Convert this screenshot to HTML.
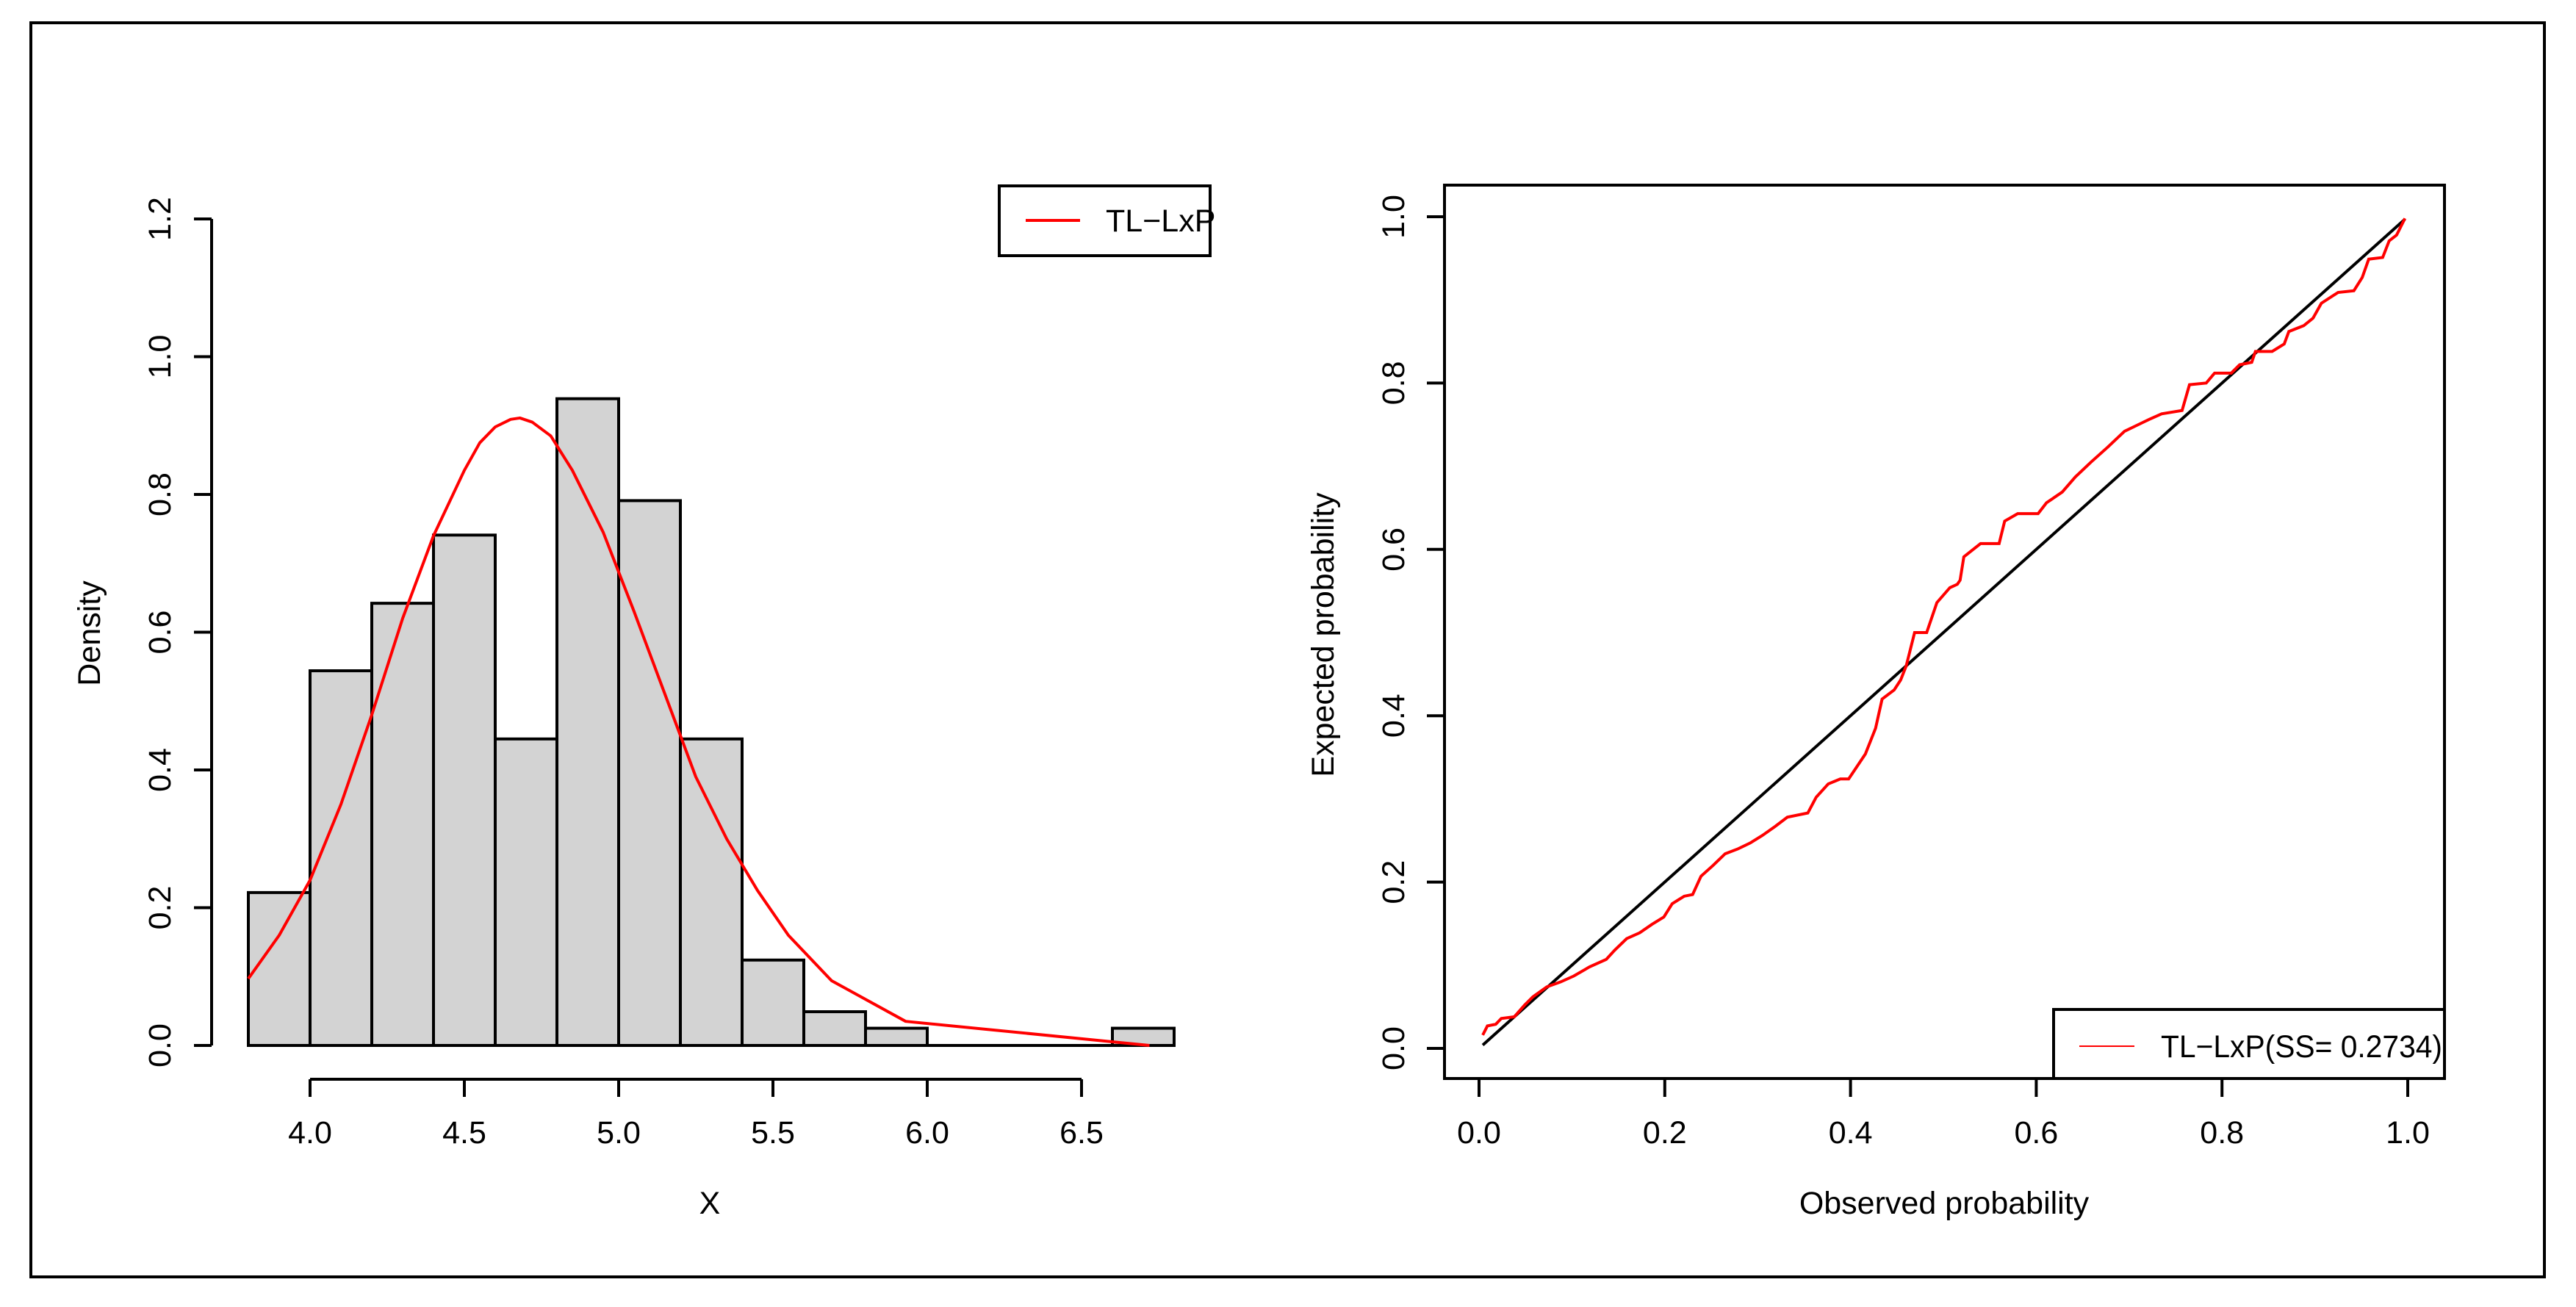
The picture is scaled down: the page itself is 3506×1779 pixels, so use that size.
<!DOCTYPE html>
<html><head><meta charset="utf-8"><style>
html,body{margin:0;padding:0;background:#fff}
svg{display:block;font-family:"Liberation Sans",Arial,sans-serif}
</style></head><body>
<svg id="s" width="3506" height="1779" viewBox="0 0 3506 1779" xmlns="http://www.w3.org/2000/svg">
<rect x="0" y="0" width="3506" height="1779" fill="#fff"/>
<rect x="42" y="31" width="3421" height="1707" fill="none" stroke="#000" stroke-width="4"/>
<g id="left"></g>
<g id="right"></g>
</svg>
<script>
const binStarts=[3.8,4.0,4.2,4.4,4.6,4.8,5.0,5.2,5.4,5.6,5.8,6.0,6.2,6.4,6.6];
const binDensity=[0.222,0.544,0.642,0.741,0.445,0.939,0.791,0.445,0.124,0.049,0.025,0,0,0,0.025];
const curveX=[3.8,3.9,4.0,4.1,4.2,4.3,4.4,4.5,4.55,4.6,4.65,4.68,4.72,4.78,4.85,4.95,5.05,5.15,5.25,5.35,5.45,5.55,5.69,5.93,6.72];
const curveY=[0.097,0.16,0.24,0.35,0.48,0.62,0.74,0.835,0.875,0.898,0.909,0.911,0.905,0.885,0.835,0.745,0.63,0.51,0.39,0.3,0.225,0.16,0.094,0.035,0.0];
const histXTicks=[4.0,4.5,5.0,5.5,6.0,6.5];
const histYTicks=[0.0,0.2,0.4,0.6,0.8,1.0,1.2];
const ppObs=[0.004,0.009,0.018,0.024,0.038,0.049,0.058,0.073,0.088,0.102,0.119,0.137,0.146,0.159,0.173,0.186,0.199,0.208,0.221,0.23,0.239,0.252,0.265,0.279,0.292,0.305,0.319,0.332,0.354,0.363,0.376,0.389,0.398,0.416,0.427,0.434,0.447,0.454,0.46,0.469,0.482,0.493,0.507,0.515,0.518,0.522,0.54,0.56,0.566,0.58,0.602,0.611,0.628,0.642,0.659,0.677,0.695,0.708,0.721,0.735,0.757,0.765,0.783,0.792,0.81,0.819,0.832,0.836,0.854,0.867,0.872,0.888,0.898,0.907,0.925,0.942,0.951,0.958,0.973,0.98,0.988,0.997];
const ppExp=[0.016,0.027,0.029,0.036,0.038,0.052,0.062,0.074,0.08,0.087,0.098,0.107,0.118,0.132,0.139,0.149,0.158,0.174,0.183,0.185,0.207,0.22,0.234,0.24,0.247,0.256,0.267,0.278,0.283,0.302,0.318,0.324,0.324,0.354,0.385,0.42,0.431,0.443,0.46,0.5,0.5,0.536,0.554,0.558,0.563,0.591,0.607,0.607,0.634,0.643,0.643,0.656,0.669,0.687,0.705,0.723,0.742,0.749,0.756,0.763,0.767,0.798,0.8,0.812,0.812,0.822,0.825,0.838,0.838,0.847,0.862,0.869,0.878,0.896,0.909,0.911,0.927,0.949,0.951,0.971,0.978,0.998];
const ppTicks=[0.0,0.2,0.4,0.6,0.8,1.0];
const diagX=[0.004,0.997];

const NS="http://www.w3.org/2000/svg";
function mk(parent,tag,attrs,text){const e=document.createElementNS(NS,tag);for(const k in attrs)e.setAttribute(k,attrs[k]);if(text!==undefined)e.textContent=text;parent.appendChild(e);return e;}
const FS=43;
// left
const L=document.getElementById('left');
const hx=v=>422+(v-4.0)*420, hy=v=>1423-v*937.5;
for(let i=0;i<binStarts.length;i++){
  if(binDensity[i]<=0){const l=mk(L,'line',{x1:hx(binStarts[i]),x2:hx(binStarts[i]+0.2),y1:hy(0),y2:hy(0),stroke:'#000','stroke-width':4});
  
  continue;}
  const r=mk(L,'rect',{x:hx(binStarts[i]),y:hy(binDensity[i]),width:hx(binStarts[i]+0.2)-hx(binStarts[i]),height:hy(0)-hy(binDensity[i]),fill:'#d3d3d3',stroke:'#000','stroke-width':4});
  
  
}
let p=mk(L,'polyline',{points:curveX.map((x,i)=>hx(x)+','+hy(curveY[i])).join(' '),fill:'none',stroke:'#f00','stroke-width':4,'stroke-linejoin':'round'});


let a=mk(L,'line',{x1:288,x2:288,y1:hy(0),y2:hy(1.2),stroke:'#000','stroke-width':4});


histYTicks.forEach(v=>{mk(L,'line',{x1:264,x2:288,y1:hy(v),y2:hy(v),stroke:'#000','stroke-width':4});
 const t=mk(L,'text',{x:0,y:0,'font-size':FS,'text-anchor':'middle',transform:`translate(232,${hy(v)}) rotate(-90)`},v.toFixed(1));
 
 });
a=mk(L,'line',{x1:hx(4),x2:hx(6.5),y1:1469,y2:1469,stroke:'#000','stroke-width':4});


histXTicks.forEach(v=>{mk(L,'line',{x1:hx(v),x2:hx(v),y1:1469,y2:1493,stroke:'#000','stroke-width':4});
 const t=mk(L,'text',{x:hx(v),y:1556,'font-size':FS,'text-anchor':'middle'},v.toFixed(1));
 
 });
let t=mk(L,'text',{x:966,y:1652,'font-size':FS,'text-anchor':'middle'},'X');


t=mk(L,'text',{x:0,y:0,'font-size':FS,'text-anchor':'middle',transform:'translate(136,862) rotate(-90)'},'Density');


let g=mk(L,'g',{});


mk(g,'rect',{x:1360,y:253,width:287,height:95,fill:'#fff',stroke:'#000','stroke-width':4});
mk(g,'line',{x1:1396,x2:1470,y1:300,y2:300,stroke:'#f00','stroke-width':4});
mk(g,'text',{x:1505,y:315,'font-size':FS},'TL\u2212LxP');
// right
const R=document.getElementById('right');
const px=v=>2013+v*1264, py=v=>1427-v*1132;
let b=mk(R,'rect',{x:1966,y:252,width:1361,height:1216,fill:'none',stroke:'#000','stroke-width':4});


let d=mk(R,'line',{x1:px(diagX[0]),y1:py(diagX[0]),x2:px(diagX[1]),y2:py(diagX[1]),stroke:'#000','stroke-width':4});


p=mk(R,'polyline',{points:ppObs.map((x,i)=>px(x)+','+py(ppExp[i])).join(' '),fill:'none',stroke:'#f00','stroke-width':4});


ppTicks.forEach(v=>{mk(R,'line',{x1:px(v),x2:px(v),y1:1468,y2:1493,stroke:'#000','stroke-width':4});
 const tx=mk(R,'text',{x:px(v),y:1556,'font-size':FS,'text-anchor':'middle'},v.toFixed(1));
 
 
 mk(R,'line',{x1:1942,x2:1966,y1:py(v),y2:py(v),stroke:'#000','stroke-width':4});
 const ty=mk(R,'text',{x:0,y:0,'font-size':FS,'text-anchor':'middle',transform:`translate(1911,${py(v)}) rotate(-90)`},v.toFixed(1));
 
 });
t=mk(R,'text',{x:2646,y:1652,'font-size':FS,'text-anchor':'middle'},'Observed probability');


t=mk(R,'text',{x:0,y:0,'font-size':FS,'text-anchor':'middle',transform:'translate(1815,864) rotate(-90)'},'Expected probability');


g=mk(R,'g',{});


mk(g,'rect',{x:2795,y:1374,width:532,height:94,fill:'#fff',stroke:'#000','stroke-width':4});
mk(g,'line',{x1:2830,x2:2905,y1:1424,y2:1424,stroke:'#f00','stroke-width':2});
mk(g,'text',{x:2941,y:1439,'font-size':FS,textLength:383,lengthAdjust:'spacingAndGlyphs','xml:space':'preserve'},'TL\u2212LxP(SS=  0.2734)');
</script>
</body></html>
